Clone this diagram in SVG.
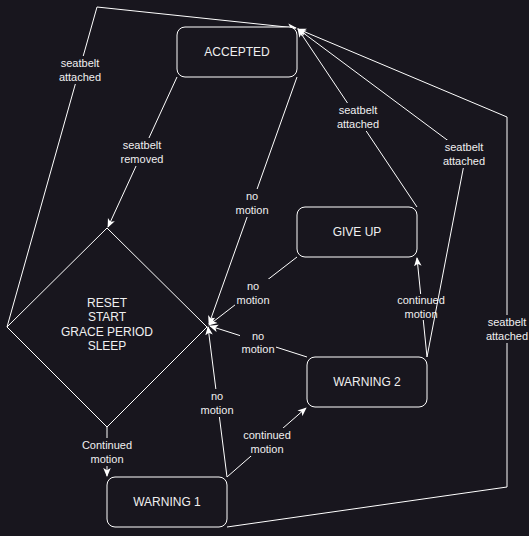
<svg xmlns="http://www.w3.org/2000/svg" width="529" height="536" viewBox="0 0 529 536">
<defs>
<style>
.node{fill:#18161e;stroke:#ffffff;stroke-width:1}
.nt{font-family:"Liberation Sans",Arial,sans-serif;font-size:12px;fill:#f0f0f0;text-anchor:middle}
.e{fill:none;stroke:#ffffff;stroke-width:1}
.lb{fill:#18161e}
.lt{font-family:"Liberation Sans",Arial,sans-serif;font-size:11px;fill:#f0f0f0;text-anchor:middle}
</style>
<marker id="a" viewBox="0 0 10 10" markerUnits="userSpaceOnUse" markerWidth="9" markerHeight="9" refX="9" refY="5" orient="auto">
<path d="M0,0.8 L10,5 L0,9.2 L2.6,5 z" fill="#ffffff"/>
</marker>
</defs>
<rect width="529" height="536" fill="#18161e"/>
<g id="connectors">
<polyline class="e" points="7,327 97,7 296,28" marker-end="url(#a)"/>
<line class="e" x1="177" y1="77" x2="108" y2="227" marker-end="url(#a)"/>
<line class="e" x1="297" y1="77" x2="209" y2="324" marker-end="url(#a)"/>
<line class="e" x1="297" y1="257" x2="209" y2="325" marker-end="url(#a)"/>
<line class="e" x1="307" y1="357" x2="210" y2="326" marker-end="url(#a)"/>
<line class="e" x1="227" y1="477" x2="208" y2="327" marker-end="url(#a)"/>
<line class="e" x1="107" y1="427" x2="107" y2="476" marker-end="url(#a)"/>
<line class="e" x1="227" y1="477" x2="306" y2="408" marker-end="url(#a)"/>
<line class="e" x1="427" y1="357" x2="417" y2="258" marker-end="url(#a)"/>
<line class="e" x1="417" y1="207" x2="298" y2="29" marker-end="url(#a)"/>
<polyline class="e" points="227,527 507,487 507,117 298,29" marker-end="url(#a)"/>
<rect class="lb" x="58" y="56" width="44" height="28"/>
<text class="lt" x="80" y="67">seatbelt</text><text class="lt" x="80" y="81">attached</text>
<rect class="lb" x="119" y="138" width="46" height="28"/>
<text class="lt" x="142" y="149">seatbelt</text><text class="lt" x="142" y="163">removed</text>
<rect class="lb" x="234" y="189" width="37" height="28"/>
<text class="lt" x="252" y="200">no</text><text class="lt" x="252" y="214">motion</text>
<rect class="lb" x="235" y="279" width="37" height="28"/>
<text class="lt" x="253" y="290">no</text><text class="lt" x="253" y="304">motion</text>
<rect class="lb" x="240" y="329" width="36" height="26"/>
<text class="lt" x="258" y="340">no</text><text class="lt" x="258" y="353">motion</text>
<rect class="lb" x="199" y="389" width="37" height="28"/>
<text class="lt" x="217" y="400">no</text><text class="lt" x="217" y="414">motion</text>
<rect class="lb" x="79" y="438" width="56" height="28"/>
<text class="lt" x="107" y="449">Continued</text><text class="lt" x="107" y="463">motion</text>
<rect class="lb" x="241" y="428" width="52" height="28"/>
<text class="lt" x="267" y="439">continued</text><text class="lt" x="267" y="453">motion</text>
<rect class="lb" x="400" y="294" width="40" height="26"/>
<text class="lt" x="421" y="304">continued</text><text class="lt" x="421" y="318">motion</text>
<rect class="lb" x="336" y="103" width="44" height="28"/>
<text class="lt" x="358" y="114">seatbelt</text><text class="lt" x="358" y="128">attached</text>
<rect class="lb" x="485" y="315" width="44" height="28"/>
<text class="lt" x="507" y="326">seatbelt</text><text class="lt" x="507" y="340">attached</text>
<polyline class="e" points="427,357 466,154 298,29" marker-end="url(#a)"/>
<rect class="lb" x="442" y="140" width="44" height="28"/>
<text class="lt" x="464" y="151">seatbelt</text><text class="lt" x="464" y="165">attached</text>
</g>
<g id="accepted"><rect class="node" x="177" y="27" width="120" height="50" rx="8"/><text class="nt" x="237" y="56">ACCEPTED</text></g>
<g id="reset"><polygon class="node" points="107,228 207,327 107,427 7,327"/>
<text class="nt" x="107" y="307">RESET</text><text class="nt" x="107" y="321">START</text><text class="nt" x="107" y="336">GRACE PERIOD</text><text class="nt" x="107" y="350">SLEEP</text></g>
<g id="giveup"><rect class="node" x="297" y="207" width="120" height="50" rx="8"/><text class="nt" x="357" y="236">GIVE UP</text></g>
<g id="warning2"><rect class="node" x="307" y="357" width="120" height="50" rx="8"/><text class="nt" x="367" y="386">WARNING 2</text></g>
<g id="warning1"><rect class="node" x="107" y="477" width="120" height="50" rx="8"/><text class="nt" x="167" y="506">WARNING 1</text></g>
</svg>
